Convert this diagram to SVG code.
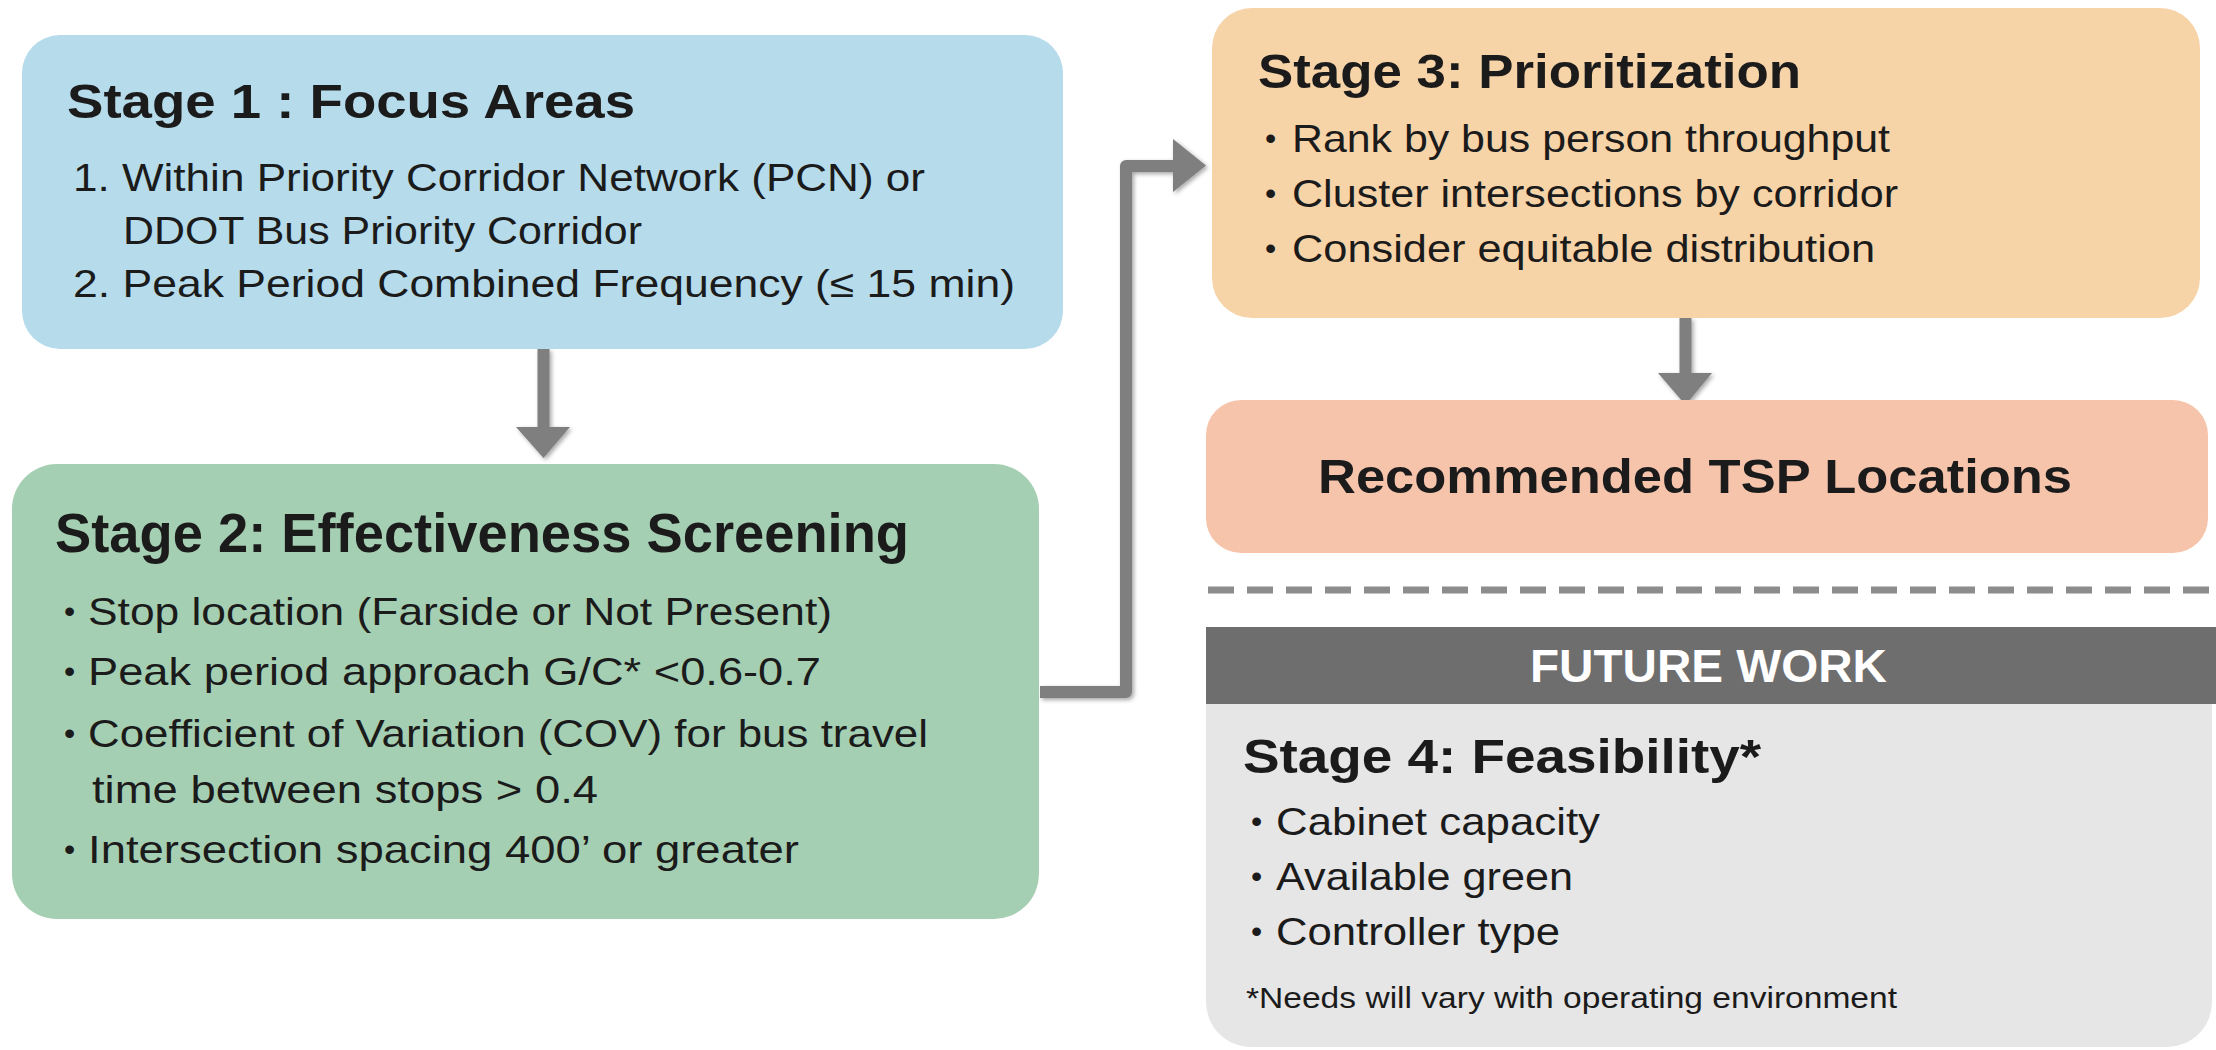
<svg xmlns="http://www.w3.org/2000/svg" width="2216" height="1050" viewBox="0 0 2216 1050">
<style>
  text { font-family: "Liberation Sans", Arial, sans-serif; fill: #1b1b1b; }
  .title { font-weight: bold; font-size: 48px; }
  .title2 { font-weight: bold; font-size: 55px; }
  .body { font-size: 38.5px; }
  .bul { font-size: 32px; }
  .foot { font-size: 29px; }
  .hdr { font-weight: bold; font-size: 46px; fill: #ffffff; }
  .conn { stroke: #7f7f7f; stroke-width: 12; fill: none; }
  .head { fill: #7f7f7f; }
</style>
<defs>
  <filter id="sh" x="-20%" y="-20%" width="140%" height="140%">
    <feDropShadow dx="2" dy="2" stdDeviation="2" flood-color="#000000" flood-opacity="0.35"/>
  </filter>
</defs>
<rect width="2216" height="1050" fill="#ffffff"/>

<g id="connectors" filter="url(#sh)">
  <line class="conn" x1="543.5" y1="349" x2="543.5" y2="428" stroke-width="11"/>
  <polygon class="head" points="516,427 570,427 543.5,458"/>
  <polyline class="conn" points="1040,692 1126,692 1126,166 1174,166" stroke-linejoin="round"/>
  <polygon class="head" points="1173,139 1173,192 1206,165.5"/>
  <line class="conn" x1="1685.5" y1="318" x2="1685.5" y2="374" stroke-width="11"/>
  <polygon class="head" points="1658,373 1712,373 1685.5,405"/>
</g>

<g id="stage1">
  <rect x="22" y="35" width="1041" height="314" rx="38" fill="#b6dbeb"/>
  <text class="title" x="67" y="118" textLength="568" lengthAdjust="spacingAndGlyphs">Stage 1 : Focus Areas</text>
  <text class="body" x="73" y="191" textLength="852" lengthAdjust="spacingAndGlyphs">1. Within Priority Corridor Network (PCN) or</text>
  <text class="body" x="123" y="244" textLength="519" lengthAdjust="spacingAndGlyphs">DDOT Bus Priority Corridor</text>
  <text class="body" x="73" y="297" textLength="942" lengthAdjust="spacingAndGlyphs">2. Peak Period Combined Frequency (≤ 15 min)</text>
</g>

<g id="stage2">
  <rect x="12" y="464" width="1027" height="455" rx="45" fill="#a5cfb3"/>
  <text class="title2" x="55" y="552" textLength="854" lengthAdjust="spacingAndGlyphs">Stage 2: Effectiveness Screening</text>
  <text class="bul" x="64" y="622">•</text>
  <text class="body" x="88" y="625" textLength="744" lengthAdjust="spacingAndGlyphs">Stop location (Farside or Not Present)</text>
  <text class="bul" x="64" y="682">•</text>
  <text class="body" x="88" y="685" textLength="733" lengthAdjust="spacingAndGlyphs">Peak period approach G/C* &lt;0.6-0.7</text>
  <text class="bul" x="64" y="744">•</text>
  <text class="body" x="88" y="747" textLength="840" lengthAdjust="spacingAndGlyphs">Coefficient of Variation (COV) for bus travel</text>
  <text class="body" x="92" y="803" textLength="506" lengthAdjust="spacingAndGlyphs">time between stops &gt; 0.4</text>
  <text class="bul" x="64" y="860">•</text>
  <text class="body" x="88" y="863" textLength="711" lengthAdjust="spacingAndGlyphs">Intersection spacing 400’ or greater</text>
</g>

<g id="stage3">
  <rect x="1212" y="8" width="988" height="310" rx="40" fill="#f7d3a8"/>
  <text class="title" x="1258" y="88" textLength="543" lengthAdjust="spacingAndGlyphs">Stage 3: Prioritization</text>
  <text class="bul" x="1265" y="149">•</text>
  <text class="body" x="1292" y="152" textLength="598" lengthAdjust="spacingAndGlyphs">Rank by bus person throughput</text>
  <text class="bul" x="1265" y="204">•</text>
  <text class="body" x="1292" y="207" textLength="606" lengthAdjust="spacingAndGlyphs">Cluster intersections by corridor</text>
  <text class="bul" x="1265" y="259">•</text>
  <text class="body" x="1292" y="262" textLength="583" lengthAdjust="spacingAndGlyphs">Consider equitable distribution</text>
</g>

<g id="tsp">
  <rect x="1206" y="400" width="1002" height="153" rx="35" fill="#f6c4ab"/>
  <text class="title" x="1318" y="493" textLength="754" lengthAdjust="spacingAndGlyphs" font-size="49">Recommended TSP Locations</text>
</g>

<g id="divider">
  <line x1="1208" y1="590" x2="2216" y2="590" stroke="#8c8c8c" stroke-width="7" stroke-dasharray="26 13"/>
</g>

<g id="stage4">
  <path d="M1206,627 H2212 V1002 A45,45 0 0 1 2167,1047 H1251 A45,45 0 0 1 1206,1002 Z" fill="#e6e6e6"/>
  <rect x="1206" y="627" width="1010" height="77" fill="#6e6e6e"/>
  <text class="hdr" x="1530" y="682" textLength="357" lengthAdjust="spacingAndGlyphs">FUTURE WORK</text>
  <text class="title" x="1243" y="773" textLength="518" lengthAdjust="spacingAndGlyphs" font-size="49">Stage 4: Feasibility*</text>
  <text class="bul" x="1251" y="832">•</text>
  <text class="body" x="1276" y="835" textLength="324" lengthAdjust="spacingAndGlyphs">Cabinet capacity</text>
  <text class="bul" x="1251" y="887">•</text>
  <text class="body" x="1276" y="890" textLength="297" lengthAdjust="spacingAndGlyphs">Available green</text>
  <text class="bul" x="1251" y="942">•</text>
  <text class="body" x="1276" y="945" textLength="284" lengthAdjust="spacingAndGlyphs">Controller type</text>
  <text class="foot" x="1246" y="1008" textLength="651" lengthAdjust="spacingAndGlyphs">*Needs will vary with operating environment</text>
</g>
</svg>
